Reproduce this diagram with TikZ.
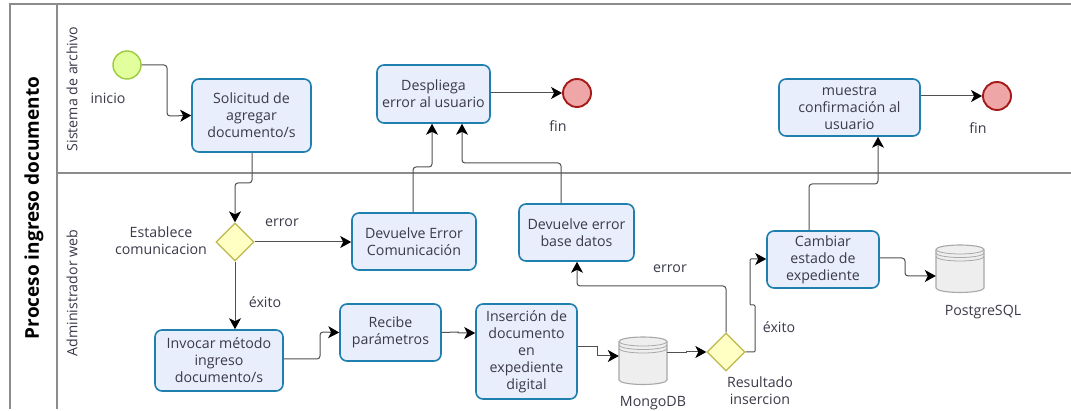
\documentclass[tikz,border=0pt]{standalone}
\usepackage{fontspec}
\setmainfont{Open Sans}
\usetikzlibrary{arrows.meta,shapes.geometric,calc}
\definecolor{txt}{HTML}{3A3A4A}
\definecolor{taskb}{HTML}{1F7FAE}
\definecolor{taskf}{HTML}{E9EEFC}
\definecolor{lanec}{HTML}{8C8C8C}
\definecolor{wire}{HTML}{505050}
\definecolor{gateb}{HTML}{BDB84C}
\definecolor{gatef}{HTML}{FFFFC4}
\definecolor{startb}{HTML}{9CCB3C}
\definecolor{startf}{HTML}{E2FF9E}
\definecolor{endb}{HTML}{A61A1A}
\definecolor{endf}{HTML}{EFA6A6}
\definecolor{dbb}{HTML}{A8A8A8}
\definecolor{dbf}{HTML}{EEEEEE}
\tikzset{
  x=1pt,y=-1pt,
  every node/.style={text=txt,font=\fontsize{14.2}{17}\selectfont},
  lanel/.style={draw=lanec,line width=1.3pt},
  task/.style={draw=taskb,fill=taskf,line width=1.6pt,rounded corners=7pt,align=center,inner sep=0pt},
  gate/.style={diamond,aspect=1,draw=gateb,fill=gatef,line width=1.3pt,minimum size=38pt,inner sep=0pt},
  startev/.style={circle,draw=startb,fill=startf,line width=1.4pt,minimum size=28pt,inner sep=0pt},
  endev/.style={circle,draw=endb,fill=endf,line width=1.9pt,minimum size=28pt,inner sep=0pt},
  flow/.style={draw=wire,line width=1pt,rounded corners=3pt,-{Stealth[black,length=11pt,width=12pt,inset=3pt]}},
  lbl/.style={align=center,inner sep=0pt},
  dbbody/.style={inner sep=0pt,minimum width=48pt,minimum height=48pt},
}
\newcommand{\dbshape}[1]{%
  \begin{scope}[shift=(#1.center)]
    \draw[draw=dbb,fill=dbf,line width=1.1pt,line join=round]
      (-24,-19.5) arc[start angle=180,end angle=0,x radius=24pt,y radius=4.5pt]
      -- (24,19) arc[start angle=360,end angle=180,x radius=24pt,y radius=4.5pt] -- cycle;
    \draw[draw=dbb,line width=.8pt]
      (-24,-19.5) arc[start angle=180,end angle=360,x radius=24pt,y radius=4.5pt]
      (-24,-16) arc[start angle=180,end angle=360,x radius=24pt,y radius=4.5pt]
      (-24,-12.5) arc[start angle=180,end angle=360,x radius=24pt,y radius=4.5pt];
  \end{scope}
}
\begin{document}
\begin{tikzpicture}
\useasboundingbox (0,0) rectangle (1071,411);
\fill[white] (0,0) rectangle (1071,411);
% pool
\draw[lanel] (1071,4) -- (10,4) -- (10,409);
\draw[lanel] (57,4) -- (57,409);
\draw[lanel] (57,173) -- (1071,173);
\node[rotate=90,font=\fontsize{19}{22}\selectfont\bfseries,text=black,inner sep=0pt] (pool) at (34,208) {Proceso ingreso documento};
\node[rotate=90,inner sep=0pt] (l1) at (72,89) {Sistema de archivo};
\node[rotate=90,inner sep=0pt] (l2) at (72,293) {Administrador web};
% nodes
\node[startev] (st) at (127,65) {};
\node[lbl] (stl) at (108,98) {inicio};
\node[task,minimum width=119pt,minimum height=73pt] (sol) at (251.5,115.5) {Solicitud de\\agregar\\documento/s};
\node[task,minimum width=113pt,minimum height=58pt] (des) at (433.5,94) {Despliega\\error al usuario};
\node[endev] (e1) at (577,93) {};
\node[lbl] (e1l) at (558,126) {fin};
\node[task,minimum width=141pt,minimum height=57pt] (mue) at (849.5,107.5) {muestra\\confirmación al\\usuario};
\node[endev] (e2) at (997,96) {};
\node[lbl] (e2l) at (978,128) {fin};
\node[gate] (g1) at (235,242) {};
\node[lbl] (g1l) at (161,241) {Establece\\comunicacion};
\node[task,minimum width=124pt,minimum height=57pt] (dec) at (414,241.5) {Devuelve Error\\Comunicación};
\node[task,minimum width=115pt,minimum height=57pt] (deb) at (576.5,232.5) {Devuelve error\\base datos};
\node[task,minimum width=112pt,minimum height=57pt] (cam) at (823,259.5) {Cambiar\\estado de\\expediente};
\node[task,minimum width=128pt,minimum height=61pt] (inv) at (219,360.5) {Invocar método\\ingreso\\documento/s};
\node[task,minimum width=101pt,minimum height=57pt] (rec) at (390.5,332.5) {Recibe\\parámetros};
\node[task,minimum width=101pt,minimum height=95pt] (ins) at (526.5,351.5) {Inserción de\\documento\\en\\expediente\\digital};
\node[dbbody] (mon) at (643,361) {};
\node[lbl] (monl) at (653,403) {MongoDB};
\node[gate] (g2) at (726,352) {};
\node[lbl] (g2l) at (760,391) {Resultado\\insercion};
\node[dbbody] (pos) at (960,269) {};
\node[lbl] (posl) at (983,312) {PostgreSQL};
\dbshape{mon}
\dbshape{pos}
\node[lbl] (t1) at (282,223) {error};
\node[lbl] (t2) at (265,302) {éxito};
\node[lbl] (t3) at (670,269) {error};
\node[lbl] (t4) at (779,327) {éxito};
% flows
\draw[flow] (st.east) -- (167,65) -- (167,116) -- (sol.west);
\draw[flow] (sol.south -| 252,0) -- (252,183) -- (235,183) -- (g1.north);
\draw[flow] (g1.east) -- (dec.west |- g1.east);
\draw[flow] (g1.south) -- (g1.south |- inv.north);
\draw[flow] (inv.east |- 0,359) -- (320,359) -- (320,332) -- (rec.west);
\draw[flow,rounded corners=0pt] (rec.east) -- (458,332) -- (458,333) -- (ins.west |- 0,333);
\draw[flow,rounded corners=0pt] (ins.east |- 0,347) -- (597,347) -- (597,356) -- (mon.west |- 0,356);
\draw[flow,rounded corners=0pt] (mon.east |- 0,353) -- (686,353) -- (686,352) -- (g2.west);
\draw[flow] (g2.north) -- (726,286) -- (577,286) -- (deb.south -| 577,0);
\draw[flow,rounded corners=1pt] (g2.east) -- (755,352) -- (755,305) -- (750,305) -- (750,259) -- (cam.west |- 0,259);
\draw[flow] (cam.east |- 0,258) -- (905,258) -- (905,276) -- (pos.west |- 0,276);
\draw[flow] (cam.north -| 809,0) -- (809,184) -- (878,184) -- (mue.south -| 878,0);
\draw[flow] (dec.north -| 413,0) -- (413,167) -- (432,167) -- (des.south -| 432,0);
\draw[flow] (deb.north -| 561,0) -- (561,163) -- (462,163) -- (des.south -| 462,0);
\draw[flow] (des.east |- 0,93) -- (e1.west);
\draw[flow] (mue.east |- 0,96) -- (e2.west);
\end{tikzpicture}
\end{document}
